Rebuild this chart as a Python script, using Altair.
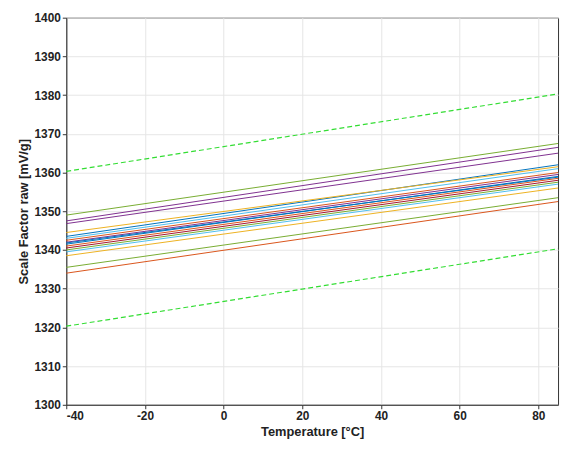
import altair as alt
import pandas as pd

# each sensor line: value at -40 °C and at 85 °C
t_start, t_end = -40, 85
sensor_start = [1349.0, 1347.5, 1346.8, 1343.5, 1343.0, 1342.5, 1342.0, 1341.5,
                1341.0, 1340.5, 1340.0, 1339.5, 1338.5, 1335.5, 1334.0, 1344.5, 1341.8]
sensor_end = [1367.5, 1366.5, 1365.0, 1362.0, 1361.0, 1360.0, 1359.5, 1359.0,
              1358.5, 1358.0, 1357.5, 1357.0, 1356.0, 1353.5, 1352.5, 1361.5, 1358.8]
sensor_colors = ["#77ac30", "#7e2f8e", "#7e2f8e", "#0072bd", "#4dbeee", "#d95319",
                 "#7e2f8e", "#0072bd", "#d95319", "#a2142f", "#77ac30", "#4dbeee",
                 "#edb120", "#77ac30", "#d95319", "#edb120", "#0072bd"]
limit_start = [1360.3, 1320.3]
limit_end = [1380.3, 1340.3]

rows = []
for i, (a, b) in enumerate(zip(sensor_start, sensor_end)):
    rows.append({"s": f"s{i}", "T": t_start, "v": a})
    rows.append({"s": f"s{i}", "T": t_end, "v": b})
df = pd.DataFrame(rows)

lim = []
for i, (a, b) in enumerate(zip(limit_start, limit_end)):
    lim.append({"s": f"l{i}", "T": t_start, "v": a})
    lim.append({"s": f"l{i}", "T": t_end, "v": b})
dl = pd.DataFrame(lim)

x = alt.X("T:Q", scale=alt.Scale(domain=[-40, 85], nice=False),
          axis=alt.Axis(values=[-40, -20, 0, 20, 40, 60, 80], format="d",
                        labelExpr="replace(datum.label, '−', '-')", title="Temperature [°C]"))
y = alt.Y("v:Q", scale=alt.Scale(domain=[1300, 1400], nice=False),
          axis=alt.Axis(values=list(range(1300, 1401, 10)), format="d",
                        title="Scale Factor raw [mV/g]"))

lines = alt.Chart(df).mark_line(strokeWidth=1).encode(
    x=x, y=y,
    color=alt.Color("s:N", scale=alt.Scale(domain=[f"s{i}" for i in range(len(sensor_start))],
                                           range=sensor_colors), legend=None))
limits = alt.Chart(dl).mark_line(strokeWidth=1.2, strokeDash=[5, 3], color="#33dd33").encode(
    x=x, y=y, detail="s:N")

chart = (limits + lines).properties(
    width=498, height=392,
    autosize=alt.AutoSizeParams(type="none"),
    padding={"left": 59, "top": 7, "right": 4, "bottom": 45},
).configure_axis(
    labelFont="Liberation Sans", labelFontWeight="bold", labelFontSize=12, labelColor="#222",
    titleFont="Liberation Sans", titleFontWeight="bold", titleFontSize=13, titleColor="#222",
    gridColor="#e6e6e6", domainColor="#333", tickColor="#333", tickSize=4
).configure_view(stroke="#333")

chart.save("out.html", embed_options={"renderer": "svg", "actions": False})
